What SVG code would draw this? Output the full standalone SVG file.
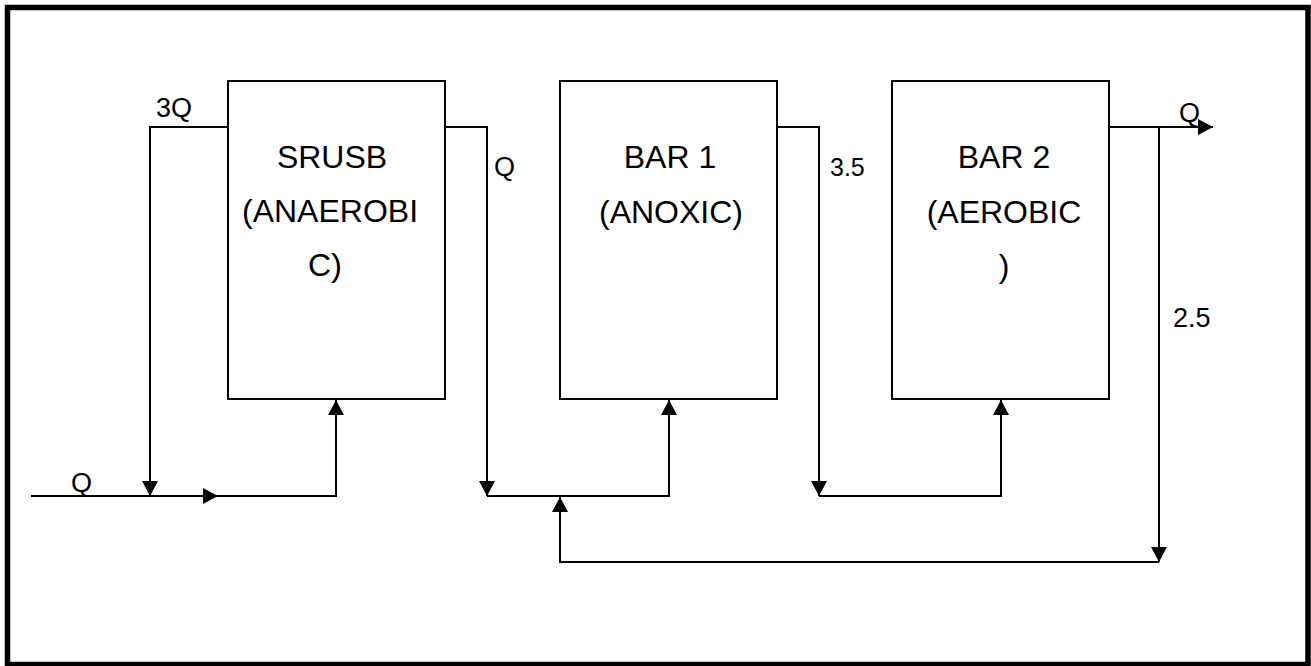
<svg xmlns="http://www.w3.org/2000/svg" width="1311" height="666" viewBox="0 0 1311 666">
<style>
  .box { fill: #ffffff; stroke: #000000; stroke-width: 2; }
  .line { fill: none; stroke: #000000; stroke-width: 2; }
  .big { font-family: "Liberation Sans", Arial, sans-serif; font-size: 32px; fill: #000000; text-anchor: middle; }
  .lbl { font-family: "Liberation Sans", Arial, sans-serif; font-size: 27px; fill: #000000; }
</style>
<defs>
  <marker id="arrow" viewBox="0 0 15 16" refX="15" refY="8" markerWidth="15" markerHeight="16" markerUnits="userSpaceOnUse" orient="auto">
    <path d="M0,0 L15,8 L0,16 z" fill="#000000"/>
  </marker>
</defs>
<rect x="0" y="0" width="1311" height="666" fill="#ffffff"/>
<rect id="frame" x="7.5" y="7.5" width="1300.5" height="657" fill="none" stroke="#000000" stroke-width="5.5"/>

<g id="connectors">
  <path class="line" d="M228,127 H150 V496" marker-end="url(#arrow)"/>
  <path class="line" d="M31,496 H218" marker-end="url(#arrow)"/>
  <path class="line" d="M218,496 H336 V400" marker-end="url(#arrow)"/>
  <path class="line" d="M445,127 H487 V496" marker-end="url(#arrow)"/>
  <path class="line" d="M487,496 H669 V400" marker-end="url(#arrow)"/>
  <path class="line" d="M777,127 H819 V496" marker-end="url(#arrow)"/>
  <path class="line" d="M819,496 H1001 V400" marker-end="url(#arrow)"/>
  <path class="line" d="M1109,127 H1213" marker-end="url(#arrow)"/>
  <path class="line" d="M1159,127 V562" marker-end="url(#arrow)"/>
  <path class="line" d="M1159,562 H560 V497" marker-end="url(#arrow)"/>
</g>

<g id="srusb">
  <rect class="box" x="228" y="81" width="217" height="318"/>
  <text class="big" x="332" y="168">SRUSB</text>
  <text class="big" x="330" y="222">(ANAEROBI</text>
  <text class="big" x="325" y="276">C)</text>
</g>
<g id="bar1">
  <rect class="box" x="560" y="81" width="217" height="318"/>
  <text class="big" x="670" y="168">BAR 1</text>
  <text class="big" x="671" y="223">(ANOXIC)</text>
</g>
<g id="bar2">
  <rect class="box" x="892" y="81" width="217" height="318"/>
  <text class="big" x="1004" y="168">BAR 2</text>
  <text class="big" x="1004" y="223">(AEROBIC</text>
  <text class="big" x="1004" y="277">)</text>
</g>

<g id="labels">
  <text class="lbl" x="156" y="117">3Q</text>
  <text class="lbl" x="494" y="176">Q</text>
  <text class="lbl" x="830" y="176" style="font-size:25px">3.5</text>
  <text class="lbl" x="1179" y="122">Q</text>
  <text class="lbl" x="1173" y="327">2.5</text>
  <text class="lbl" x="71" y="492">Q</text>
</g>
</svg>
